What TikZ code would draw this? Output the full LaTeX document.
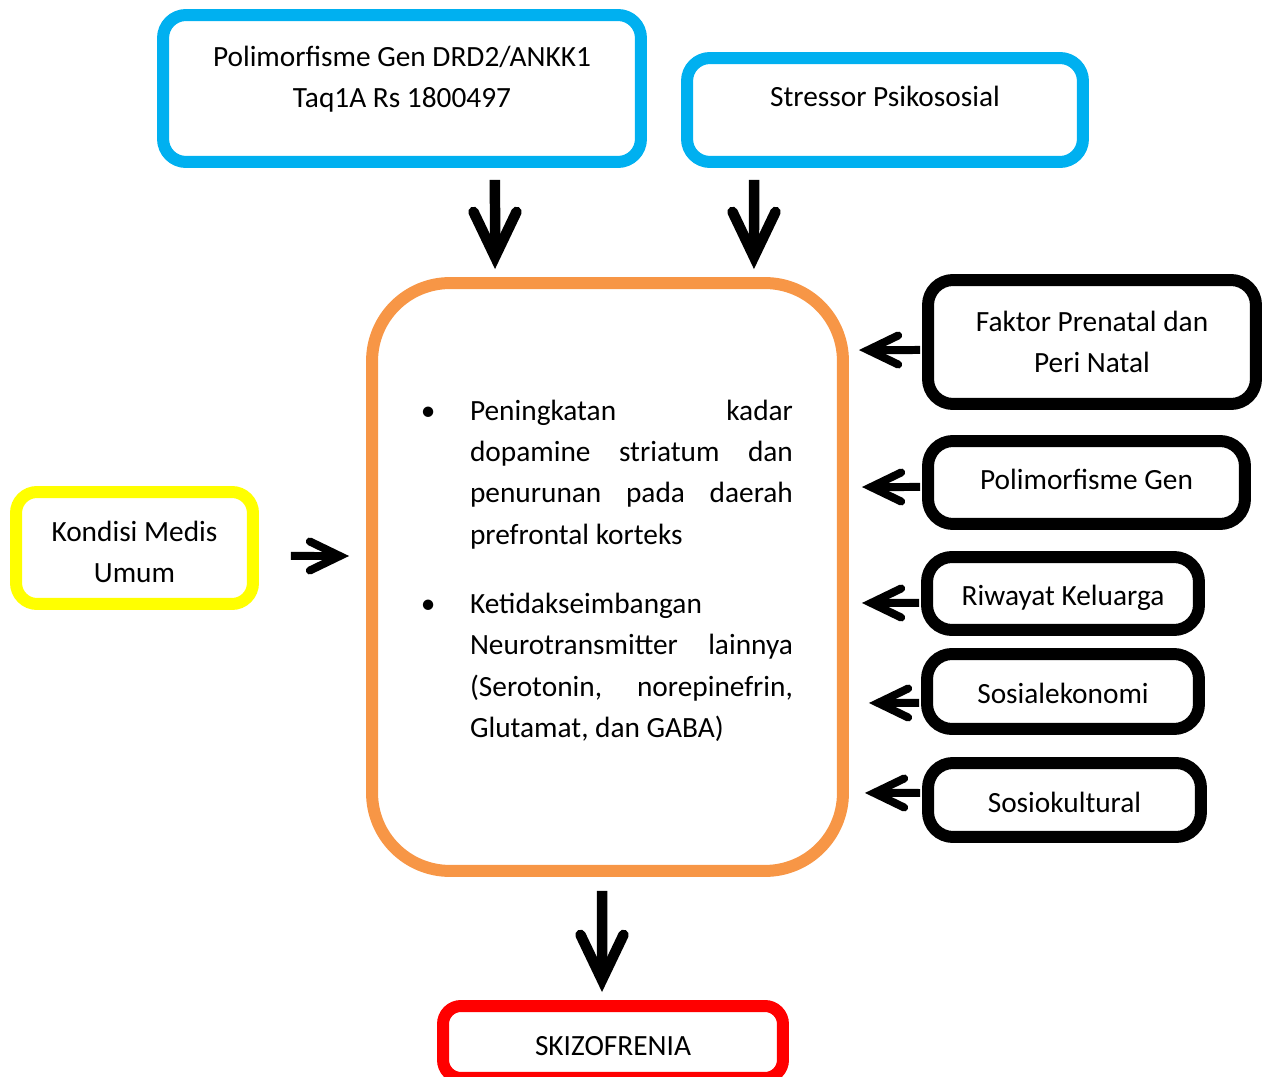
\documentclass[tikz,border=0pt]{standalone}
\usepackage{fontspec}
\setmainfont{Carlito}
\usepackage{tikz}
\usetikzlibrary{arrows.meta}
\definecolor{blueline}{HTML}{00B0F0}
\definecolor{orangeline}{HTML}{F79646}
\definecolor{yellowline}{HTML}{FFFF00}
\definecolor{redline}{HTML}{FF0000}
\tikzset{
    box/.style = {draw, line width=0.24cm, rounded corners=0.5cm, inner sep=0pt,
                  align=center, font=\fontsize{16.7pt}{23.6pt}\selectfont},
    single/.style = {text height=0.6cm, text depth=0.1cm},
    bigarrow/.style = {line width=0.21cm, -{Straight Barb[line cap=round,line join=miter,length=0.9cm,width=0.86cm]}},
    smallarrow/.style = {line width=0.16cm, -{Straight Barb[line cap=round,line join=miter,length=0.6cm,width=0.58cm]}},
}

\begin{document}
\begin{tikzpicture}[x=0.02cm,y=-0.02cm]
\useasboundingbox (0,0) rectangle (1272,1077);
\node (gen)  [box,draw=blueline,rounded corners=0.46cm,minimum width=9.56cm,text height=1.86cm,text depth=1.08cm] at (402,88.5) {Polimorfisme Gen DRD2/ANKK1\\Taq1A Rs 1800497};
\node (stres) [box,draw=blueline,rounded corners=0.46cm,minimum width=7.92cm,text height=0.97cm,text depth=1.11cm] at (885,110) {Stressor Psikososial};
\node (otak) [box,draw=orangeline,rounded corners=1.56cm,minimum width=9.42cm,text width=7.42cm,align=justify,text height=2.74cm,text depth=9.02cm] at (607.5,577)
  {\leftskip=0.96cm \parskip=0.55cm \tolerance=10000 \hyphenpenalty=10000
   \leavevmode\llap{\textbullet\hspace{0.69cm}}Peningkatan kadar\linebreak dopamine striatum dan\linebreak penurunan pada daerah\linebreak prefrontal korteks\par
   \leavevmode\llap{\textbullet\hspace{0.69cm}}Ketidakseimbangan\linebreak Neurotransmitter lainnya\linebreak (Serotonin, norepinefrin,\linebreak Glutamat, dan GABA)\par};
\node (medis) [box,draw=yellowline,rounded corners=0.42cm,minimum width=4.74cm,text height=1.82cm,text depth=0.42cm] at (134.5,548) {Kondisi Medis\\Umum};
\node (prenatal) [box,minimum width=6.56cm,minimum height=2.48cm] at (1092,342) {Faktor Prenatal dan\\Peri Natal};
\node (polgen) [box,minimum width=6.34cm,minimum height=1.66cm,text height=0.5cm,text depth=0.2cm] at (1086.5,482.5) {Polimorfisme Gen};
\node (riwayat) [box,single,minimum width=5.44cm,minimum height=1.46cm] at (1063,593.5) {Riwayat Keluarga};
\node (sosek) [box,single,minimum width=5.44cm,minimum height=1.5cm] at (1063,691.5) {Sosialekonomi};
\node (sosbud) [box,single,minimum width=5.46cm,minimum height=1.48cm] at (1064.5,800) {Sosiokultural};
\node (skizo) [box,draw=redline,rounded corners=0.36cm,minimum width=6.8cm,minimum height=1.44cm,text height=0.62cm,text depth=0.08cm] at (613,1042) {SKIZOFRENIA};
% arrows into the middle box
\draw[bigarrow,shorten <=0.24cm,shorten >=0.16cm] ([xshift=1.86cm]gen.south) -- ([xshift=-2.25cm]otak.north);
\draw[bigarrow,shorten <=0.24cm,shorten >=0.16cm] ([xshift=-2.62cm]stres.south) -- ([xshift=2.93cm]otak.north);
\draw[smallarrow,shorten <=0.64cm,shorten >=0.34cm] ([yshift=-0.16cm]medis.east) -- ([yshift=0.42cm]otak.west);
\draw[smallarrow,shorten <=0.04cm,shorten >=0.2cm] ([yshift=-0.16cm]prenatal.west) -- ([yshift=4.54cm]otak.east);
\draw[smallarrow,shorten <=0.04cm,shorten >=0.26cm] ([yshift=-0.09cm]polgen.west) -- ([yshift=1.8cm]otak.east);
\draw[smallarrow,shorten <=0.04cm,shorten >=0.26cm] ([yshift=-0.19cm]riwayat.west) -- ([yshift=-0.52cm]otak.east);
\draw[smallarrow,shorten <=0.04cm,shorten >=0.4cm] ([yshift=-0.23cm]sosek.west) -- ([yshift=-2.52cm]otak.east);
\draw[smallarrow,shorten <=0.04cm,shorten >=0.32cm] ([yshift=0.14cm]sosbud.west) -- ([yshift=-4.32cm]otak.east);
% result
\draw[bigarrow,shorten <=0.28cm,shorten >=0.16cm] ([xshift=-0.11cm]otak.south) -- ([xshift=-0.22cm]skizo.north);
\end{tikzpicture}
\end{document}
